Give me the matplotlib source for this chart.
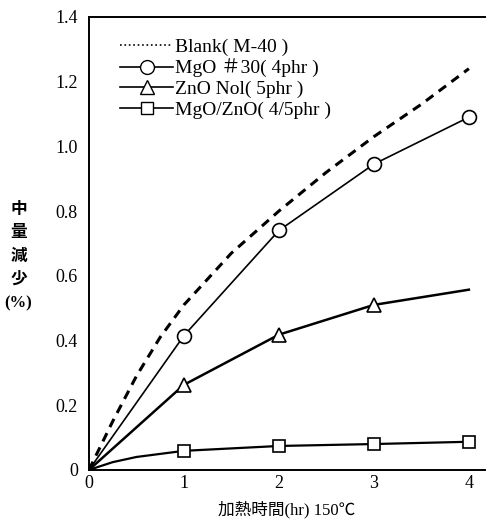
import matplotlib
matplotlib.use("Agg")
import matplotlib.pyplot as plt
from matplotlib.lines import Line2D

plt.rcParams['font.family'] = ['Liberation Serif', 'Noto Sans CJK JP', 'DejaVu Sans']

# 加熱時間 (hr)
blank_x = [0, 0.25, 0.5, 0.75, 1, 1.5, 2, 2.5, 3, 3.5, 4]
blank_y = [0, 0.15, 0.29, 0.41, 0.51, 0.67, 0.80, 0.92, 1.03, 1.13, 1.24]

mgo_x = [0, 1, 2, 3, 4]
mgo_y = [0, 0.415, 0.74, 0.945, 1.09]

zno_x = [0, 1, 2, 3, 4]
zno_y = [0, 0.263, 0.418, 0.51, 0.557]
zno_mark = [1, 2, 3]  # 4 hr has no marker

mix_x = [0, 0.25, 0.5, 1, 2, 3, 4]
mix_y = [0, 0.024, 0.04, 0.059, 0.074, 0.08, 0.087]

labels = ['Blank( M-40 )', 'MgO \uff0330( 4phr )', 'ZnO Nol( 5phr )', 'MgO/ZnO( 4/5phr )']
xticks = [0, 1, 2, 3, 4]
yticks = [0, 0.2, 0.4, 0.6, 0.8, 1.0, 1.2, 1.4]
yticklabels = ['0', '0.2', '0.4', '0.6', '0.8', '1.0', '1.2', '1.4']

fig = plt.figure(figsize=(4.86, 5.28), dpi=100)
ax = fig.add_axes([0.183, 0.11, 0.815, 0.858])

ax.plot(blank_x, blank_y, color='black', lw=2.2, linestyle=(0, (3, 2.2)))
ax.plot(mgo_x, mgo_y, color='black', lw=1.2)
ax.plot(mgo_x[1:], mgo_y[1:], ls='none', marker='o', ms=10, mfc='white', mec='black', mew=1.2)
ax.plot(zno_x, zno_y, color='black', lw=1.8)
ax.plot(zno_mark, [zno_y[zno_x.index(v)] for v in zno_mark], ls='none', marker='^',
        ms=10, mfc='white', mec='black', mew=1.2)
ax.plot(mix_x, mix_y, color='black', lw=1.6)
ax.plot(mix_x[3:], mix_y[3:], ls='none', marker='s', ms=8, mfc='white', mec='black', mew=1.2)

ax.set_xlim(0, 4.17)
ax.set_ylim(0, 1.4)
ax.set_xticks(xticks)
ax.set_yticks(yticks)
ax.set_yticklabels(yticklabels)
ax.tick_params(length=0, labelsize=13, pad=8)
ax.tick_params(axis='x', pad=4)
ax.spines['right'].set_visible(False)
for s in ['left', 'bottom', 'top']:
    ax.spines[s].set_linewidth(1.4)

handles = [
    Line2D([], [], color='black', lw=1.2, ls=':'),
    Line2D([], [], color='black', lw=1.2, marker='o', ms=10, mfc='white', mec='black'),
    Line2D([], [], color='black', lw=1.2, marker='^', ms=10, mfc='white', mec='black'),
    Line2D([], [], color='black', lw=1.2, marker='s', ms=9, mfc='white', mec='black'),
]
ax.legend(handles, labels, loc='upper left', bbox_to_anchor=(0.055, 0.975), frameon=False,
          fontsize=14, handlelength=2.7, handletextpad=0.1, labelspacing=0.15, borderpad=0)

ax.set_xlabel('加熱時間(hr) 150℃', fontsize=12, labelpad=6)
fig.text(0.038, 0.617, '中\n量\n減\n少\n(%)', ha='center', va='top', fontsize=12,
         fontweight='bold', linespacing=1.6)

fig.savefig('out.png', dpi=100)
